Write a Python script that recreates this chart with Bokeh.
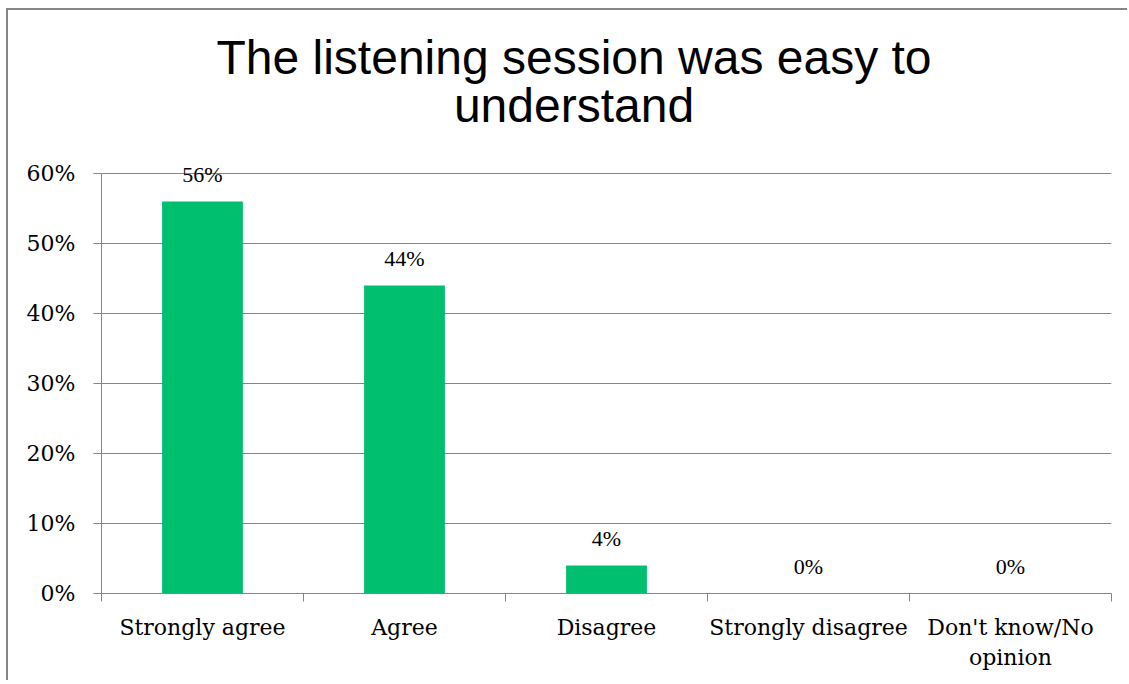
from bokeh.plotting import figure
from bokeh.models import (Range1d, FixedTicker, ColumnDataSource, LabelSet, Label,
                          PrintfTickFormatter, InlineStyleSheet)
from bokeh.embed import file_html
from bokeh.resources import INLINE

# ---- data ----
title_lines = ["The listening session was easy to", "understand"]
categories = ["Strongly agree", "Agree", "Disagree", "Strongly disagree",
              "Don't know/No\nopinion"]
values = [56, 44, 4, 0, 0]
value_labels = ["56%", "44%", "4%", "0%", "0%"]
y_ticks = [0, 10, 20, 30, 40, 50, 60]

GREEN = "#00BF6F"
GRAY = "#868686"
SERIF = "DejaVu Serif"
FS = "22px"

# ---- layout geometry (page pixels) ----
W, H = 1121, 672
BORDER_L, BORDER_R, BORDER_B = 93, 18, 89
FRAME_LEFT_PAGE, FRAME_RIGHT_PAGE, ZERO_PAGE = 101, 1111, 593
PX_PER_UNIT_Y = 420 / 60.0
PX_PER_UNIT_X = (FRAME_RIGHT_PAGE - FRAME_LEFT_PAGE) / len(categories)
frame_h = H - BORDER_B
y_end = frame_h / PX_PER_UNIT_Y   # frame reaches the canvas top so text is not clipped


def px_x(page_x):
    return (page_x - FRAME_LEFT_PAGE) / PX_PER_UNIT_X


def px_y(page_y):
    return (ZERO_PAGE - page_y) / PX_PER_UNIT_Y


xs = [i + 0.5 for i in range(len(categories))]
src = ColumnDataSource(dict(x=xs, top=values, label=value_labels))

p = figure(width=W, height=H,
           x_range=Range1d(0, len(categories)), y_range=Range1d(0, y_end),
           output_backend="svg", toolbar_location=None,
           min_border_left=BORDER_L, min_border_right=BORDER_R,
           min_border_top=0, min_border_bottom=BORDER_B)
p.stylesheets = [InlineStyleSheet(css=":host { margin-left: 6px; margin-top: 8px; "
                                      "border-top: 2px solid #868686; border-left: 2px solid #868686; }")]

p.outline_line_color = None
p.background_fill_color = "white"
p.border_fill_color = "white"
p.title.visible = False

# title lines
for txt, yb in zip(title_lines, [57, 105]):
    p.add_layout(Label(x=px_x(573.5), y=px_y(yb), text=txt,
                       text_align="center", text_baseline="alphabetic",
                       text_font="Liberation Sans", text_font_size="48px",
                       text_color="black"))

# bars
p.vbar(x="x", top="top", width=0.4, source=src, fill_color=GREEN, line_color=None)

labels = LabelSet(x="x", y="top", text="label", source=src,
                  text_align="center", text_baseline="alphabetic", y_offset=20,
                  text_font=SERIF, text_font_size=FS, text_color="black")
p.add_layout(labels)

# y axis
p.yaxis.ticker = FixedTicker(ticks=y_ticks)
p.yaxis.bounds = (y_ticks[0], y_ticks[-1])
p.yaxis.formatter = PrintfTickFormatter(format="%d%%")
p.yaxis.axis_line_color = GRAY
p.yaxis.major_tick_line_color = GRAY
p.yaxis.major_tick_out = 8
p.yaxis.major_tick_in = 0
p.yaxis.minor_tick_line_color = None
p.yaxis.major_label_standoff = 18
p.yaxis.major_label_text_font = SERIF
p.yaxis.major_label_text_font_size = FS
p.yaxis.major_label_text_color = "black"

# x axis: labels at centres, ticks at boundaries
p.xaxis.ticker = FixedTicker(ticks=xs, minor_ticks=list(range(len(categories) + 1)))
p.xaxis.major_label_overrides = {x: c for x, c in zip(xs, categories)}
p.xaxis.axis_line_color = GRAY
p.xaxis.major_tick_line_color = None
p.xaxis.major_tick_out = 8
p.xaxis.major_tick_in = 0
p.xaxis.minor_tick_line_color = GRAY
p.xaxis.minor_tick_out = 8
p.xaxis.minor_tick_in = 0
p.xaxis.major_label_standoff = 13
p.xaxis.major_label_text_font = SERIF
p.xaxis.major_label_text_font_size = FS
p.xaxis.major_label_text_color = "black"

# grid
p.xgrid.visible = False
p.ygrid.grid_line_color = GRAY
p.ygrid.grid_line_width = 1

open("out.html", "w").write(file_html(p, INLINE))
